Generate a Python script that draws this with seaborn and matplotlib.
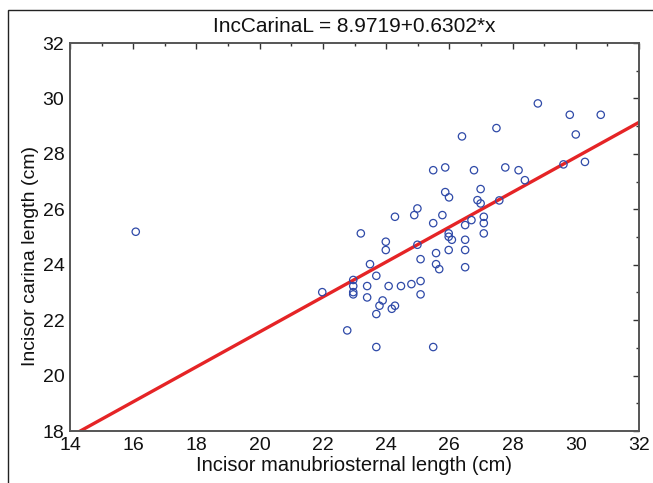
import numpy as np
import pandas as pd
import matplotlib
matplotlib.use("Agg")
import matplotlib.pyplot as plt
import seaborn as sns
from matplotlib.ticker import MultipleLocator
from matplotlib.patches import Rectangle

# ---- data ----
manubriosternal = [
    28.80, 29.81, 30.79, 27.49, 26.40, 30.00, 25.49, 25.87, 26.78, 27.77,
    28.19, 28.39, 29.61, 30.29, 25.87, 25.99, 26.99, 26.89, 26.99, 27.58,
    24.99, 24.89, 24.28, 25.78, 25.49, 27.09, 27.09, 26.70, 26.50, 27.09,
    23.20, 25.98, 25.98, 26.08, 26.50, 23.99, 23.99, 24.99, 25.58, 25.98,
    26.50, 23.49, 25.09, 25.58, 25.68, 26.50,
    21.98, 22.96, 22.96, 22.96, 22.96, 23.69, 23.40, 23.40, 24.08, 24.47,
    24.80, 25.09, 25.09, 23.89, 23.79, 24.28, 24.18, 23.69, 22.77, 23.69,
    25.49, 16.08,
]
carina = [
    29.82, 29.41, 29.41, 28.93, 28.63, 28.70, 27.41, 27.51, 27.41, 27.51,
    27.41, 27.05, 27.62, 27.71, 26.62, 26.43, 26.73, 26.33, 26.21, 26.32,
    26.03, 25.79, 25.73, 25.79, 25.50, 25.73, 25.50, 25.61, 25.43, 25.13,
    25.13, 25.13, 25.01, 24.90, 24.90, 24.83, 24.53, 24.72, 24.42, 24.53,
    24.53, 24.02, 24.20, 24.02, 23.84, 23.91,
    23.01, 23.45, 23.23, 23.01, 22.93, 23.60, 23.23, 22.82, 23.23, 23.23,
    23.30, 23.41, 22.93, 22.71, 22.52, 22.52, 22.41, 22.22, 21.63, 21.03,
    21.03, 25.19,
]
intercept = 8.9719
slope = 0.6302
x_range = [14, 32]

title = "IncCarinaL = 8.9719+0.6302*x"
xlabel = "Incisor manubriosternal length (cm)"
ylabel = "Incisor carina length (cm)"

df = pd.DataFrame({"x": manubriosternal, "y": carina})
fit = pd.DataFrame({"x": x_range})
fit["y"] = intercept + slope * fit["x"]

# ---- plot ----
sns.set_style("white")
plt.rcParams["font.family"] = ["Liberation Sans", "DejaVu Sans"]

fig = plt.figure(figsize=(6.53, 4.83), dpi=100)
ax = fig.add_axes([70 / 653, 1 - 431 / 483, (639 - 70) / 653, (431 - 43) / 483])

# outer figure frame (left/top visible)
fig.patches.append(Rectangle((8 / 653, -0.05), 1.2, 1 - 10 / 483 + 0.05,
                             transform=fig.transFigure, fill=False,
                             edgecolor="#222222", linewidth=1.0, zorder=0))

sns.lineplot(data=fit, x="x", y="y", ax=ax, color="#e52426", linewidth=2.4,
             zorder=2)
sns.scatterplot(data=df, x="x", y="y", ax=ax, marker="o", s=28,
                facecolors="none", edgecolor="#2f4aa8", linewidth=0.9,
                zorder=3)

ax.set_xlim(14, 32)
ax.set_ylim(18, 32)
ax.xaxis.set_major_locator(MultipleLocator(2))
ax.xaxis.set_minor_locator(MultipleLocator(1))
ax.yaxis.set_major_locator(MultipleLocator(2))
ax.yaxis.set_minor_locator(MultipleLocator(1))
ax.tick_params(which="both", direction="in", top=True, right=True,
               colors="#333333", labelcolor="#111111")
ax.tick_params(which="major", length=4, width=1.0, labelsize=14)
ax.tick_params(axis="x", which="major", pad=4)
ax.tick_params(axis="y", which="major", pad=4)
ax.tick_params(which="minor", length=2.5, width=1.0)

for s in ax.spines.values():
    s.set_color("#555555")
    s.set_linewidth(1.4)

ax.set_title(title, fontsize=15, pad=8, color="#111111")
ax.set_xlabel(xlabel, fontsize=14.5, color="#111111", labelpad=2)
ax.set_ylabel(ylabel, fontsize=14, color="#111111")
ax.yaxis.set_label_coords(-0.054, 0.45)

fig.savefig("out.png", dpi=100)
